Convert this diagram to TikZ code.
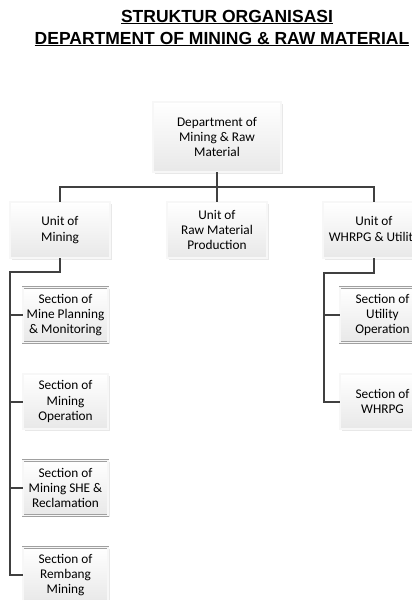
\documentclass[tikz,border=0pt]{standalone}
\usepackage{fontspec}
\setmainfont{Carlito}
\newfontfamily\titlefont{Liberation Sans}
\usepackage{tikz}
\usetikzlibrary{positioning,shadows}
\usepackage{xcolor}
\definecolor{linegray}{RGB}{64,64,64}
\definecolor{boxedge}{RGB}{160,160,160}

\begin{document}
\begin{tikzpicture}[x=1pt, y=-1pt,
  box/.style={draw=boxedge, double=gray!6, double distance=1.3pt, line width=0.6pt,
    top color=white, bottom color=gray!18,
    drop shadow={shadow xshift=1.6pt, shadow yshift=-1.6pt, fill=gray!45, opacity=0.4},
    align=center, inner sep=0pt, font=\fontsize{13.3}{15.2}\selectfont},
  unitbox/.style={box, minimum width=100pt, minimum height=56pt},
  secbox/.style={box, minimum width=85pt, minimum height=55pt},
  link/.style={draw=linegray, line width=1.8pt},
  heading/.style={font=\titlefont\bfseries\fontsize{17.5}{20}\selectfont, inner sep=0pt}
]
\useasboundingbox (0,0) rectangle (412,600);
\clip (0,0) rectangle (412,600);
\fill[white] (0,0) rectangle (412,600);

% title
\node[heading] (t1) at (227,17) {\underline{STRUKTUR ORGANISASI}};
\node[heading] (t2) at (222,39) {\underline{DEPARTMENT OF MINING \& RAW MATERIAL}};

% department and units
\node[box, minimum width=128pt, minimum height=70pt] (dept) at (217,137) {Department of\\Mining \& Raw\\Material};
\node[unitbox] (uMin) at (60,230) {Unit of\\Mining};
\node[unitbox] (uRaw) at (217,230) {Unit of\\Raw Material\\Production};
\node[unitbox, minimum width=102pt] (uWhr) at (374,230) {Unit of\\WHRPG \& Utility};

% sections under mining
\node[secbox] (sPlan) at (65.5,315) {Section of\\Mine Planning\\\& Monitoring};
\node[secbox, below=31pt of sPlan] (sOps) {Section of\\Mining\\Operation};
\node[secbox, below=31pt of sOps] (sShe) {Section of\\Mining SHE \&\\Reclamation};
\node[secbox, below=31pt of sShe] (sRem) {Section of\\Rembang\\Mining};

% sections under whrpg & utility
\node[secbox] (sUtil) at (382.5,315) {Section of\\Utility\\Operation};
\node[secbox, below=31pt of sUtil] (sWhr) {Section of\\WHRPG};

% connectors
\coordinate (bus) at (217,187);
\coordinate (spineA) at (10,272);
\coordinate (spineC) at (324,273);
\draw[link] (dept.south) -- (uRaw.north);
\draw[link] (uMin.north) |- (bus) -| (uWhr.north);
\draw[link] (uMin.south) |- (spineA) |- (sRem.west);
\foreach \s in {sPlan,sOps,sShe}
  \draw[link] (spineA |- \s.west) -- (\s.west);
\draw[link] (uWhr.south) |- (spineC) |- (sWhr.west);
\draw[link] (spineC |- sUtil.west) -- (sUtil.west);
\end{tikzpicture}
\end{document}
